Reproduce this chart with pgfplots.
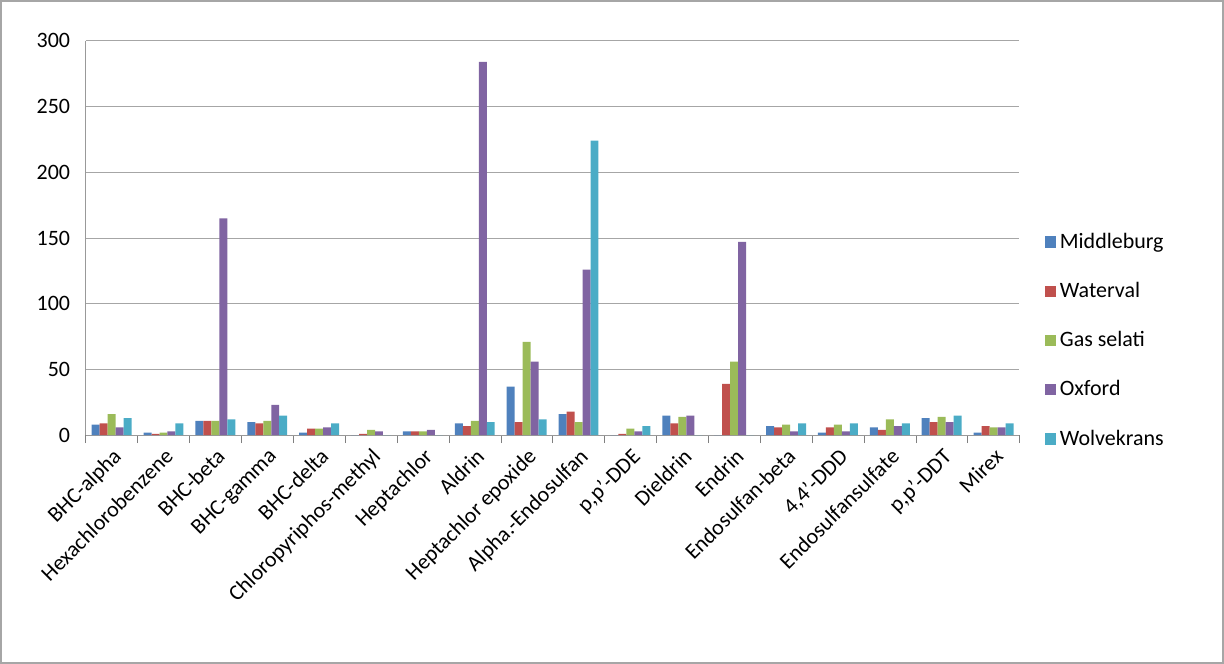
\documentclass[border=0pt]{standalone}
\usepackage{pgfplots}
\pgfplotsset{compat=1.18}
\usepackage{fontspec}
\setmainfont{Carlito}
\definecolor{c1}{HTML}{4F81BD}
\definecolor{c2}{HTML}{C0504D}
\definecolor{c3}{HTML}{9BBB59}
\definecolor{c4}{HTML}{8064A2}
\definecolor{c5}{HTML}{4BACC6}
\begin{document}
\begin{tikzpicture}
\draw[gray!70, line width=0.8pt] (0,0) rectangle (612pt,331.5pt);
\begin{axis}[
  at={(42.5pt,114pt)}, anchor=south west,
  scale only axis, width=467.5pt, height=197.5pt,
  ybar=0pt, bar width=4pt,
  ymin=0, ymax=300, ytick={0,50,...,300},
  xmin=-0.5, xmax=17.5,
  xtick=data,
  xticklabels={BHC-alpha,Hexachlorobenzene,BHC-beta,BHC-gamma,BHC-delta,Chloropyriphos-methyl,Heptachlor,Aldrin,Heptachlor epoxide,Alpha.-Endosulfan,{p,p'-DDE},Dieldrin,Endrin,Endosulfan-beta,{4,4'-DDD},Endosulfansulfate,{p,p'-DDT},Mirex},
  x tick label style={rotate=45, anchor=north east, font=\fontsize{11}{12}\selectfont, inner sep=1pt},
  y tick label style={font=\fontsize{11}{12}\selectfont},
  /pgf/number format/assume math mode=true,
  minor xtick={-0.5,0.5,...,17.5},
  major x tick style={draw=none},
  minor tick length=4pt, tick align=outside,
  xtick pos=bottom, ytick pos=left,
  ymajorgrids, grid style={gray!70},
  axis x line*=bottom, axis y line*=left,
  axis line style={gray!80},
  major y tick style={draw=none},
  every axis plot/.append style={draw=none},
  legend style={at={(1.02,0.24)}, anchor=west, draw=none, font=\fontsize{11}{12}\selectfont, row sep=11.5pt},
  legend cell align=left,
  legend image code/.code={\fill[#1] (0cm,-0.1cm) rectangle (0.2cm,0.1cm);},
]
\addplot[fill=c1] coordinates {(0,8)(1,2)(2,11)(3,10)(4,2)(5,0)(6,3)(7,9)(8,37)(9,16)(10,0)(11,15)(12,0)(13,7)(14,2)(15,6)(16,13)(17,2)};
\addplot[fill=c2] coordinates {(0,9)(1,1)(2,11)(3,9)(4,5)(5,1)(6,3)(7,7)(8,10)(9,18)(10,1)(11,9)(12,39)(13,6)(14,6)(15,4)(16,10)(17,7)};
\addplot[fill=c3] coordinates {(0,16)(1,2)(2,11)(3,11)(4,5)(5,4)(6,3)(7,11)(8,71)(9,10)(10,5)(11,14)(12,56)(13,8)(14,8)(15,12)(16,14)(17,6)};
\addplot[fill=c4] coordinates {(0,6)(1,3)(2,165)(3,23)(4,6)(5,3)(6,4)(7,284)(8,56)(9,126)(10,3)(11,15)(12,147)(13,3)(14,3)(15,7)(16,10)(17,6)};
\addplot[fill=c5] coordinates {(0,13)(1,9)(2,12)(3,15)(4,9)(5,0)(6,0)(7,10)(8,12)(9,224)(10,7)(11,0)(12,0)(13,9)(14,9)(15,9)(16,15)(17,9)};
\legend{Middleburg,Waterval,Gas selati,Oxford,Wolvekrans}
\end{axis}
\end{tikzpicture}
\end{document}
